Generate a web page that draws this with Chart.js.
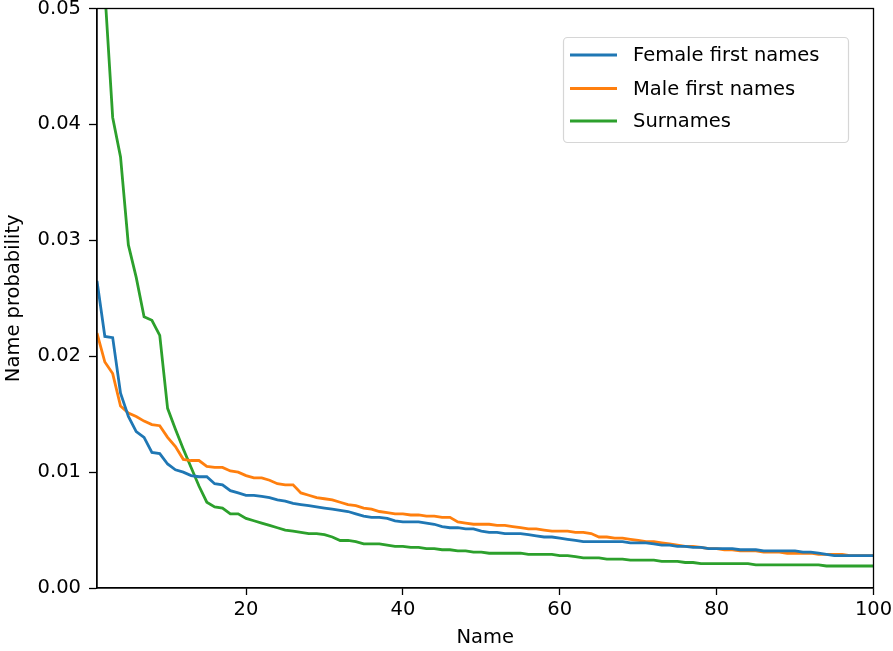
<!DOCTYPE html>
<html lang="en">
<head>
  <meta charset="UTF-8">
  <title>Name probability</title>
  <script src="https://cdn.jsdelivr.net/npm/chart.js"></script>
  <style>
    html, body { margin: 0; padding: 0; background: #fff; }
    #wrap { width: 893px; height: 651px; }
  </style>
</head>
<body>
<div id="wrap"><canvas id="chart" width="893" height="651"></canvas></div>
<script>
// rank of the name (x axis)
const ranks = Array.from({ length: 100 }, (_, i) => i + 1);
const xTicks = [20, 40, 60, 80, 100];

const female = [
  0.0265, 0.0217, 0.0216, 0.0168, 0.0148, 0.0135, 0.0130, 0.0117, 0.0116, 0.0107,
  0.0102, 0.0100, 0.0097, 0.0096, 0.0096, 0.0090, 0.0089, 0.0084, 0.0082, 0.0080,
  0.0080, 0.0079, 0.0078, 0.0076, 0.0075, 0.0073, 0.0072, 0.0071, 0.0070, 0.0069,
  0.0068, 0.0067, 0.0066, 0.0064, 0.0062, 0.0061, 0.0061, 0.0060, 0.0058, 0.0057,
  0.0057, 0.0057, 0.0056, 0.0055, 0.0053, 0.0052, 0.0052, 0.0051, 0.0051, 0.0049,
  0.0048, 0.0048, 0.0047, 0.0047, 0.0047, 0.0046, 0.0045, 0.0044, 0.0044, 0.0043,
  0.0042, 0.0041, 0.0040, 0.0040, 0.0040, 0.0040, 0.0040, 0.0040, 0.0039, 0.0039,
  0.0039, 0.0038, 0.0037, 0.0037, 0.0036, 0.0036, 0.0035, 0.0035, 0.0034, 0.0034,
  0.0034, 0.0034, 0.0033, 0.0033, 0.0033, 0.0032, 0.0032, 0.0032, 0.0032, 0.0032,
  0.0031, 0.0031, 0.0030, 0.0029, 0.0028, 0.0028, 0.0028, 0.0028, 0.0028, 0.0028
];

const male = [
  0.0220, 0.0195, 0.0185, 0.0157, 0.0151, 0.0148, 0.0144, 0.0141, 0.0140, 0.0130,
  0.0122, 0.0111, 0.0110, 0.0110, 0.0105, 0.0104, 0.0104, 0.0101, 0.0100, 0.0097,
  0.0095, 0.0095, 0.0093, 0.0090, 0.0089, 0.0089, 0.0082, 0.0080, 0.0078, 0.0077,
  0.0076, 0.0074, 0.0072, 0.0071, 0.0069, 0.0068, 0.0066, 0.0065, 0.0064, 0.0064,
  0.0063, 0.0063, 0.0062, 0.0062, 0.0061, 0.0061, 0.0057, 0.0056, 0.0055, 0.0055,
  0.0055, 0.0054, 0.0054, 0.0053, 0.0052, 0.0051, 0.0051, 0.0050, 0.0049, 0.0049,
  0.0049, 0.0048, 0.0048, 0.0047, 0.0044, 0.0044, 0.0043, 0.0043, 0.0042, 0.0041,
  0.0040, 0.0040, 0.0039, 0.0038, 0.0037, 0.0036, 0.0036, 0.0035, 0.0034, 0.0034,
  0.0033, 0.0033, 0.0032, 0.0032, 0.0032, 0.0031, 0.0031, 0.0031, 0.0030, 0.0030,
  0.0030, 0.0030, 0.0029, 0.0029, 0.0029, 0.0029, 0.0028, 0.0028, 0.0028, 0.0028
];

const surnames = [
  0.0650, 0.0515, 0.0406, 0.0372, 0.0296, 0.0268, 0.0234, 0.0231, 0.0218, 0.0155,
  0.0137, 0.0120, 0.0104, 0.0088, 0.0074, 0.0070, 0.0069, 0.0064, 0.0064, 0.0060,
  0.0058, 0.0056, 0.0054, 0.0052, 0.0050, 0.0049, 0.0048, 0.0047, 0.0047, 0.0046,
  0.0044, 0.0041, 0.0041, 0.0040, 0.0038, 0.0038, 0.0038, 0.0037, 0.0036, 0.0036,
  0.0035, 0.0035, 0.0034, 0.0034, 0.0033, 0.0033, 0.0032, 0.0032, 0.0031, 0.0031,
  0.0030, 0.0030, 0.0030, 0.0030, 0.0030, 0.0029, 0.0029, 0.0029, 0.0029, 0.0028,
  0.0028, 0.0027, 0.0026, 0.0026, 0.0026, 0.0025, 0.0025, 0.0025, 0.0024, 0.0024,
  0.0024, 0.0024, 0.0023, 0.0023, 0.0023, 0.0022, 0.0022, 0.0021, 0.0021, 0.0021,
  0.0021, 0.0021, 0.0021, 0.0021, 0.0020, 0.0020, 0.0020, 0.0020, 0.0020, 0.0020,
  0.0020, 0.0020, 0.0020, 0.0019, 0.0019, 0.0019, 0.0019, 0.0019, 0.0019, 0.0019
];

const FONT = 'DejaVu Sans';
const FS = 19.5;
const LW = 2.8;

const toPoints = vals => vals.map((v, i) => ({ x: ranks[i], y: v }));

// box around the plot + legend in the upper right, like matplotlib
const framePlugin = {
  id: 'frame',
  afterDraw(chart) {
    const { ctx, chartArea: a } = chart;
    ctx.save();
    ctx.strokeStyle = '#000';
    ctx.lineWidth = 1.3;
    ctx.strokeRect(a.left, a.top, a.right - a.left, a.bottom - a.top);

    // legend
    const bx = 563.5, by = 37.5, bw = 285, bh = 105, r = 4;
    ctx.fillStyle = 'rgba(255,255,255,0.8)';
    ctx.strokeStyle = '#d6d6d6';
    ctx.lineWidth = 1.2;
    ctx.beginPath();
    ctx.roundRect(bx, by, bw, bh, r);
    ctx.fill();
    ctx.stroke();

    const rowsY = [55, 88.5, 121];
    ctx.font = FS + 'px "' + FONT + '"';
    ctx.textBaseline = 'middle';
    ctx.textAlign = 'left';
    chart.data.datasets.forEach((ds, i) => {
      const y = rowsY[i];
      ctx.strokeStyle = ds.borderColor;
      ctx.lineWidth = LW;
      ctx.beginPath();
      ctx.moveTo(570, y);
      ctx.lineTo(617, y);
      ctx.stroke();
      ctx.fillStyle = '#000';
      ctx.fillText(ds.label, 633, y + 1);
    });
    ctx.restore();
  }
};

new Chart(document.getElementById('chart'), {
  type: 'line',
  data: {
    datasets: [
      { label: 'Female first names', data: toPoints(female), borderColor: '#1f77b4' },
      { label: 'Male first names', data: toPoints(male), borderColor: '#ff7f0e' },
      { label: 'Surnames', data: toPoints(surnames), borderColor: '#2ca02c' }
    ]
  },
  options: {
    responsive: false,
    animation: false,
    layout: { padding: 0 },
    elements: {
      line: { borderWidth: LW, tension: 0, fill: false },
      point: { radius: 0 }
    },
    plugins: {
      legend: { display: false },
      tooltip: { enabled: false }
    },
    scales: {
      x: {
        type: 'linear',
        min: 1,
        max: 100,
        afterBuildTicks: s => { s.ticks = xTicks.map(v => ({ value: v })); },
        afterFit: s => { s.height = 63; s.paddingLeft = 0; s.paddingRight = 19.5; },
        grid: { drawOnChartArea: false, drawTicks: true, tickLength: 7, tickColor: '#000', tickWidth: 1.3 },
        border: { display: true, color: '#000', width: 1.3 },
        ticks: { color: '#000', font: { family: FONT, size: FS }, padding: 3, maxRotation: 0 },
        title: { display: true, text: 'Name', color: '#000', font: { family: FONT, size: FS }, padding: { top: 0, bottom: 1 } }
      },
      y: {
        min: 0,
        max: 0.05,
        afterFit: s => { s.width = 97; s.paddingTop = 8.5; s.paddingBottom = 0; },
        grid: { drawOnChartArea: false, drawTicks: true, tickLength: 8, tickColor: '#000', tickWidth: 1.3 },
        border: { display: true, color: '#000', width: 1.3 },
        ticks: {
          stepSize: 0.01,
          color: '#000',
          font: { family: FONT, size: FS },
          padding: 8,
          callback: v => v.toFixed(2)
        },
        title: { display: true, text: 'Name probability', color: '#000', font: { family: FONT, size: FS }, padding: { top: 2, bottom: 0 } }
      }
    }
  },
  plugins: [framePlugin]
});
</script>
</body>
</html>
